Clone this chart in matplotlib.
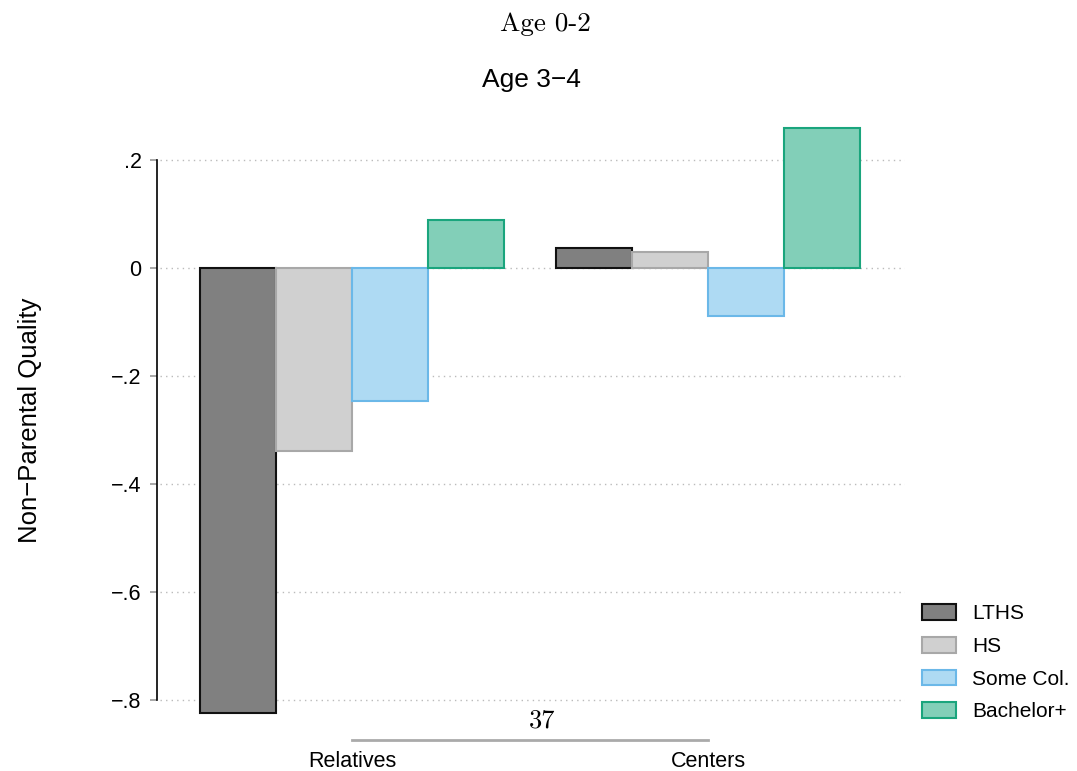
import matplotlib
matplotlib.use("Agg")
import matplotlib.pyplot as plt
import numpy as np
from matplotlib.patches import Patch

plt.rcParams['font.family'] = ['Liberation Sans', 'DejaVu Sans']

groups = ["Relatives", "Centers"]
series = ["LTHS", "HS", "Some Col.", "Bachelor+"]
values = {
    "LTHS": [-0.824, 0.037],
    "HS": [-0.339, 0.030],
    "Some Col.": [-0.246, -0.089],
    "Bachelor+": [0.089, 0.261],
}
yticks = [-0.8, -0.6, -0.4, -0.2, 0, 0.2]
yticklabels = ["\u2212.8", "\u2212.6", "\u2212.4", "\u2212.2", "0", ".2"]

fills = ["#808080", "#d0d0d0", "#aedaf3", "#82cfb8"]
edges = ["#111111", "#a8a8a8", "#6bb8e8", "#1aa57d"]

fig = plt.figure(figsize=(10.77, 7.71), dpi=100)
ax = fig.add_axes([0.1458, 0.0402, 0.8403 - 0.1458, 0.8444 - 0.0402])

x = np.arange(len(groups))
w = 0.2135
for i, s in enumerate(series):
    ax.bar(x + (i - 1.5) * w, values[s], width=w, color=fills[i],
           edgecolor=edges[i], linewidth=1.5, zorder=3)

ax.set_xlim(-0.548, 1.553)
ax.set_ylim(-0.874, 0.275)
ax.set_yticks(yticks)
ax.set_yticklabels(yticklabels, fontsize=15.5)
ax.set_xticks(x)
ax.set_xticklabels(groups, fontsize=15.5)
ax.tick_params(axis='x', length=0, pad=8)
ax.tick_params(axis='y', length=5, color='#999999', width=1.2, pad=6)

for yv in yticks:
    ax.axhline(yv, xmin=0.004, color='#bbbbbb', linestyle=(0, (1, 3)),
               linewidth=1, zorder=1)

for sp in ['top', 'right']:
    ax.spines[sp].set_visible(False)
ax.spines['left'].set_bounds(-0.8, 0.2)
ax.spines['left'].set_color('black')
ax.spines['left'].set_linewidth(1.2)
ax.spines['bottom'].set_bounds(0, 1)
ax.spines['bottom'].set_color('#aaaaaa')
ax.spines['bottom'].set_linewidth(2)

fig.text(0.506, 0.969, "Age 0-2", fontname='cmr10', fontsize=19.5,
         ha='center', va='center')
fig.text(0.493, 0.896, "Age 3\u22124", fontsize=19, ha='center', va='center')
fig.text(0.503, 0.065, "37", fontname='cmr10', fontsize=19,
         ha='center', va='center')
fig.text(0.028, 0.455, "Non\u2212Parental Quality", fontsize=18.5,
         rotation=90, ha='center', va='center')

handles = [Patch(facecolor=fills[i], edgecolor=edges[i], linewidth=1.5)
           for i in range(4)]
fig.legend(handles, series, loc='upper left', bbox_to_anchor=(0.856, 0.216),
           frameon=False, fontsize=15, handlelength=1.63, handleheight=0.77,
           labelspacing=0.65, handletextpad=0.77, borderpad=0, borderaxespad=0)

fig.savefig("out.png", dpi=100)
